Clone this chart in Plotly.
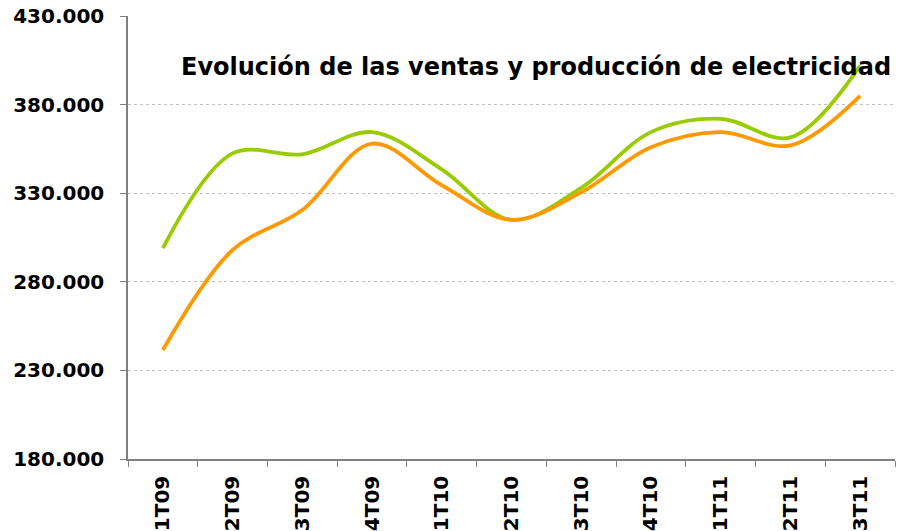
import plotly.graph_objects as go

categories = ["1T09", "2T09", "3T09", "4T09", "1T10", "2T10", "3T10", "4T10", "1T11", "2T11", "3T11"]
green_values = [299.0, 352.5, 352.0, 364.5, 343.5, 315.0, 333.0, 364.5, 372.0, 361.5, 402.0]
orange_values = [241.5, 298.0, 320.5, 358.0, 334.5, 315.0, 330.5, 356.0, 364.5, 357.0, 385.0]
y_tick_vals = [180, 230, 280, 330, 380, 430]
y_tick_text = ["180.000", "230.000", "280.000", "330.000", "380.000", "430.000"]
y_min, y_max = 180, 430
title_text = "Evolución de las ventas y producción de electricidad"

fig = go.Figure()
fig.add_trace(go.Scatter(x=categories, y=green_values, mode="lines",
                         line=dict(color="#99CC00", width=3.8, shape="spline", smoothing=1.0),
                         showlegend=False))
fig.add_trace(go.Scatter(x=categories, y=orange_values, mode="lines",
                         line=dict(color="#FF9900", width=3.8, shape="spline", smoothing=1.0),
                         showlegend=False))

font_family = "DejaVu Sans, Verdana, sans-serif"

# page body has an 8px default margin; the figure is sized/offset to compensate
W, H = 900, 523
L, R, T, B = 120, 13, 8, 72
plot_w = W - L - R
plot_h = H - T - B

fig.update_layout(
    width=W, height=H,
    margin=dict(l=L, r=R, t=T, b=B, autoexpand=False),
    paper_bgcolor="white", plot_bgcolor="white",
    font=dict(family=font_family, color="black"),
    xaxis=dict(
        type="category", range=[-0.5, 10.5], automargin=False,
        showline=True, linecolor="#808080", linewidth=1.5,
        ticks="outside", tickson="boundaries", ticklen=6, tickcolor="#808080",
        tickangle=-90, tickfont=dict(size=20, family=font_family, weight="bold"),
        showgrid=False, ticklabelstandoff=7, ticklabeloverflow="allow",
    ),
    yaxis=dict(
        range=[y_min, y_max + 0.05], tickvals=y_tick_vals, ticktext=y_tick_text, automargin=False,
        showline=True, linecolor="#808080", linewidth=1.5,
        ticks="outside", ticklen=6, tickcolor="#808080",
        tickfont=dict(size=20, family=font_family, weight="bold"),
        showgrid=True, gridcolor="#C0C0C0", griddash="dot", gridwidth=1,
        zeroline=False, ticklabelstandoff=12, ticklabeloverflow="allow",
    ),
    annotations=[dict(
        text="<b>" + title_text + "</b>", xref="paper", yref="paper",
        x=1 - 2 / plot_w, y=1 - (59 - T) / plot_h, xanchor="right", yanchor="middle",
        showarrow=False, font=dict(size=24, family=font_family, color="black"),
    )],
)

fig.write_html("out.html")
